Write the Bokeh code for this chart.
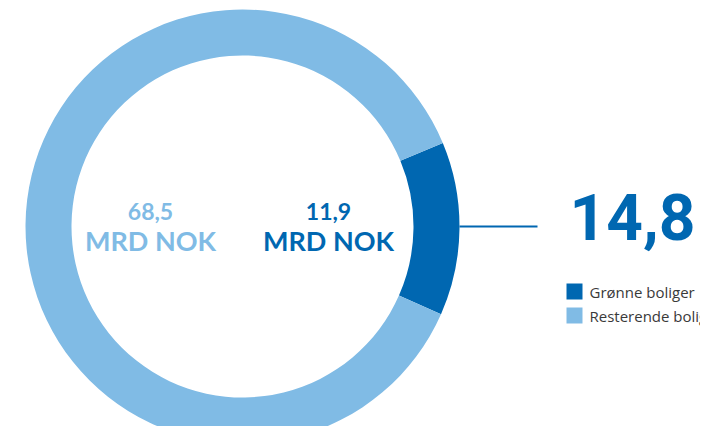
import math
from bokeh.plotting import figure
from bokeh.models import Range1d
from bokeh.core.properties import value
from bokeh.embed import file_html
from bokeh.resources import INLINE

# ---- data ----
categories = ["Grønne boliger", "Resterende boliger"]
amounts = [11.9, 68.5]            # MRD NOK (center labels)
ring_share_pct = [12.9, 87.1]     # share of the ring, as drawn in the picture
headline_pct = 14.8               # headline percentage
colors = ["#0067B1", "#80BBE5"]
unit_label = "MRD NOK"

pct_text = f"{headline_pct:.1f}".replace(".", ",") + " %"

W, H = 700, 426
p = figure(width=W, height=H, output_backend="svg", toolbar_location=None,
           x_range=Range1d(0, W), y_range=Range1d(442 - H, 442),
           min_border=0, outline_line_color=None)
p.axis.visible = False
p.grid.visible = False
p.background_fill_color = "white"

def sy(screen_y):
    return 442 - screen_y

cx, cy = 242, sy(226)
r_in, r_out = 171, 217

# wedges: first slice centred on angle 0 (pointing right)
tot = sum(ring_share_pct)
ang0 = ring_share_pct[0] / tot * 2 * math.pi
starts, ends = [], []
a = -ang0 / 2 - math.radians(0.6)
for v in ring_share_pct:
    span = v / tot * 2 * math.pi
    starts.append(a)
    ends.append(a + span)
    a += span
p.annular_wedge(x=[cx] * 2, y=[cy] * 2, inner_radius=r_in, outer_radius=r_out,
                start_angle=starts, end_angle=ends, fill_color=colors,
                line_color=None)

# connector line
p.line(x=[cx + r_out, 537], y=[cy, cy], line_color=colors[0], line_width=2)

# big percentage (positioned by vertical middle of the digits)
p.text(x=[569], y=[sy(218)], text=[pct_text], text_color=colors[0],
       text_font=value("Roboto"), text_font_style="bold",
       text_font_size="64px", text_baseline="middle", text_align="left")

# center labels
def fmt(v):
    return f"{v:.1f}".replace(".", ",")

label_x = [328, 150]
for i in range(2):
    p.text(x=[label_x[i]], y=[sy(211)], text=[fmt(amounts[i])],
           text_color=colors[i], text_font=value("Lato"),
           text_font_style="bold", text_font_size="23px",
           text_baseline="middle", text_align="center")
    p.text(x=[label_x[i]], y=[sy(240)], text=[unit_label],
           text_color=colors[i], text_font=value("Lato"),
           text_font_style="bold", text_font_size="27px",
           text_baseline="middle", text_align="center")

# legend
leg_y = [291, 315]
for i in range(2):
    p.rect(x=[574], y=[sy(leg_y[i])], width=16, height=16,
           fill_color=colors[i], line_color=None)
    p.text(x=[589], y=[sy(leg_y[i])], text=[categories[i]],
           text_color="#3a3a3a", text_font=value("Open Sans"),
           text_font_size="15px", text_baseline="middle",
           text_align="left")

open("out.html", "w").write(file_html(p, INLINE))
